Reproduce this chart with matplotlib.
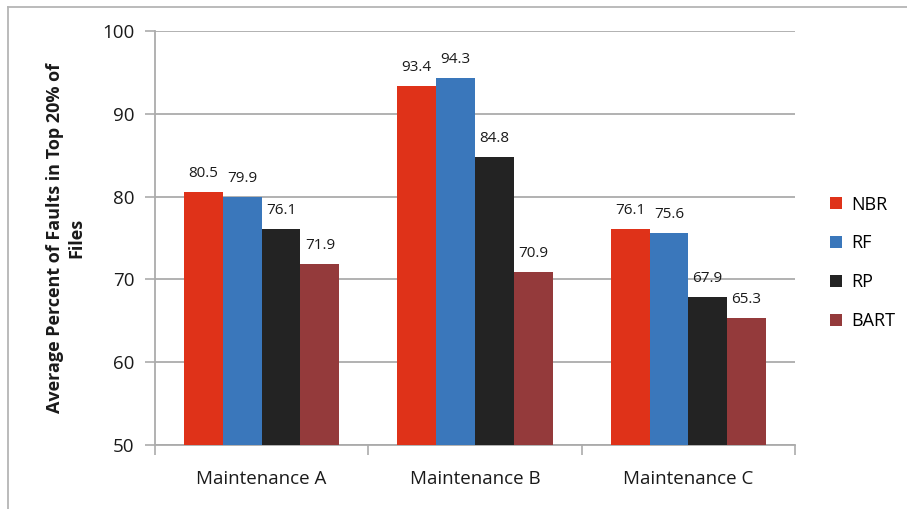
import numpy as np
import matplotlib.pyplot as plt
from matplotlib.lines import Line2D

# data
groups = ['Maintenance A', 'Maintenance B', 'Maintenance C']
series = ['NBR', 'RF', 'RP', 'BART']
nbr = [80.5, 93.4, 76.1]
rf = [79.9, 94.3, 75.6]
rp = [76.1, 84.8, 67.9]
bart = [71.9, 70.9, 65.3]
colors = ['#DF3219', '#3A77BB', '#232323', '#943A3B']

plt.rcParams['font.family'] = ['Open Sans', 'DejaVu Sans']
gridc = '#ABABAB'

fig = plt.figure(figsize=(9.07, 5.09), dpi=100)
ax = fig.add_axes([155 / 907, 1 - 445 / 509, 640 / 907, 414 / 509])

x = np.arange(len(groups))
width = 0.182
for i, (vals, name) in enumerate(zip([nbr, rf, rp, bart], series)):
    pos = x + (i - 1.5) * width
    bars = ax.bar(pos, np.array(vals) - 50, width, bottom=50, color=colors[i],
                  label=name, zorder=3)
    for p, v in zip(pos, vals):
        ax.annotate(f'{v:.1f}', (p, v), xytext=(0, 8), textcoords='offset points',
                    ha='center', va='bottom', fontsize=11, color='#1a1a1a')

ax.set_xlim(-0.5, 2.5)
ax.set_ylim(50, 100)
ax.set_yticks(range(50, 101, 10))
ax.set_xticks(x)
ax.set_xticklabels(groups, fontsize=13.5)
ax.set_xticks([-0.5, 0.5, 1.5, 2.5], minor=True)
ax.tick_params(axis='x', which='major', length=0, pad=18, colors='#1a1a1a')
ax.tick_params(axis='x', which='minor', length=7, width=1.2, color=gridc)
ax.tick_params(axis='y', length=7, width=1.2, color=gridc, labelsize=13.5,
               labelcolor='#1a1a1a', pad=8)
ax.yaxis.grid(True, color=gridc, linewidth=1.3, zorder=0)
for s in ['top', 'right']:
    ax.spines[s].set_visible(False)
for s in ['left', 'bottom']:
    ax.spines[s].set_color(gridc)
    ax.spines[s].set_linewidth(1.3)
ax.set_axisbelow(True)

ax.set_ylabel('Average Percent of Faults in Top 20% of\nFiles', fontsize=13,
              fontweight='bold', color='#1a1a1a', labelpad=12)

ax.legend(loc='center left', bbox_to_anchor=(1.03, 0.44), frameon=False,
          fontsize=13, labelspacing=1.15, handlelength=0.65, handleheight=0.65,
          handletextpad=0.5)

# outer chart frame (left and top edges)
fig.add_artist(Line2D([7.5 / 907, 7.5 / 907], [0, 1 - 6.5 / 509],
                      color='#B5B5B5', linewidth=1.3, transform=fig.transFigure))
fig.add_artist(Line2D([7.5 / 907, 1], [1 - 6.5 / 509, 1 - 6.5 / 509],
                      color='#B5B5B5', linewidth=1.3, transform=fig.transFigure))

plt.savefig('out.png', dpi=100)
plt.close()
